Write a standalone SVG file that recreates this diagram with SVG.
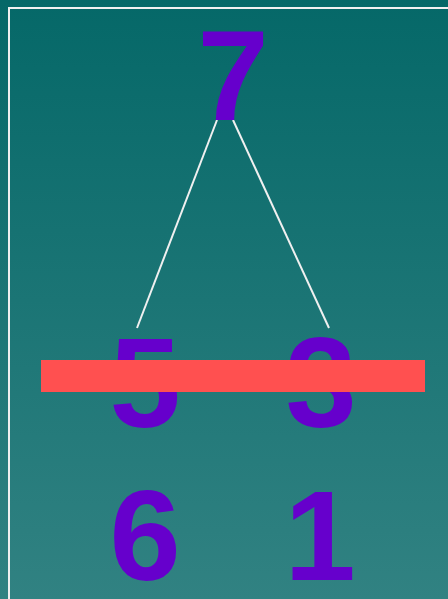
<svg xmlns="http://www.w3.org/2000/svg" width="448" height="599" viewBox="0 0 448 599">
  <defs>
    <linearGradient id="bg" x1="0" y1="0" x2="0" y2="1">
      <stop offset="0" stop-color="#056868"/>
      <stop offset="1" stop-color="#318282"/>
    </linearGradient>
  </defs>
  <style>
    .num { font-family: "Liberation Sans", Arial, sans-serif; font-weight: bold; font-size: 128px; fill: #6600CC; text-anchor: middle; }
    .edge { stroke: #F0F0F0; stroke-width: 2; fill: none; }
  </style>
  <rect x="0" y="0" width="448" height="599" fill="url(#bg)"/>
  <path d="M9 599 V8 H448" stroke="#F0F0F0" stroke-width="2" fill="none"/>
  <g id="connectors">
    <line class="edge" x1="217" y1="120" x2="137" y2="328"/>
    <line class="edge" x1="233" y1="120" x2="329" y2="328"/>
  </g>
  <g id="n7"><text class="num" x="233" y="120">7</text></g>
  <g id="n5"><text class="num" x="145" y="427">5</text></g>
  <g id="n3"><text class="num" x="321" y="427">3</text></g>
  <g id="n6"><text class="num" x="145" y="580">6</text></g>
  <g id="n1"><text class="num" x="320" y="580">1</text></g>
  <rect id="bar" x="41" y="360" width="384" height="32" fill="#FF5050"/>
</svg>
